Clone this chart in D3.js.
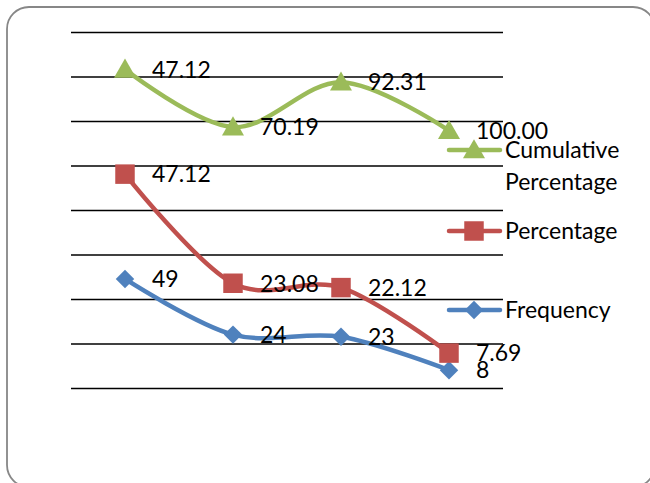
<!DOCTYPE html>
<html>
<head>
<meta charset="utf-8">
<script src="https://cdn.jsdelivr.net/npm/d3@7"></script>
<style>
  html, body { margin: 0; padding: 0; background: #fff; }
  svg { display: block; }
</style>
</head>
<body>
<div id="chart"></div>
<script>
// Stacked line chart (Excel style): each series stacks on the one below
var categories = ["1", "2", "3", "4"];
var frequency = [49, 24, 23, 8];
var percentage = [47.12, 23.08, 22.12, 7.69];
var cumulative = [47.12, 70.19, 92.31, 100.00];
var labelText = {
  frequency: ["49", "24", "23", "8"],
  percentage: ["47.12", "23.08", "22.12", "7.69"],
  cumulative: ["47.12", "70.19", "92.31", "100.00"]
};
var yTicks = [0, 20, 40, 60, 80, 100, 120, 140, 160];

var W = 650, H = 483;
var FONT = "Lato, 'Open Sans', sans-serif";
var FONT_SIZE = 23;

var svg = d3.select("#chart").append("svg")
  .attr("width", W)
  .attr("height", H);

// outer rounded frame (runs off the right / bottom edge)
svg.append("rect")
  .attr("x", 7).attr("y", 7)
  .attr("width", 648).attr("height", 480)
  .attr("rx", 22).attr("ry", 22)
  .attr("fill", "#fff")
  .attr("stroke", "#878787")
  .attr("stroke-width", 1.8);

var x = d3.scalePoint().domain(categories).range([71, 503]).padding(0.5);
var y = d3.scaleLinear().domain([0, 160]).range([388, 32]);

// gridlines
var grid = svg.append("g")
  .attr("transform", "translate(71,0)")
  .call(d3.axisLeft(y).tickValues(yTicks).tickSize(-432).tickFormat(""));
grid.select(".domain").remove();
grid.selectAll(".tick line").attr("stroke", "#000").attr("stroke-width", 1.6);

// stack the series
var series = [
  { key: "frequency", name: "Frequency", values: frequency, color: "#4F81BD", marker: "diamond" },
  { key: "percentage", name: "Percentage", values: percentage, color: "#C0504D", marker: "square" },
  { key: "cumulative", name: "Cumulative Percentage", values: cumulative, color: "#9BBB59", marker: "triangle" }
];
var running = categories.map(function () { return 0; });
series.forEach(function (s) {
  s.points = s.values.map(function (v, i) {
    running[i] += v;
    return { cat: categories[i], top: running[i], label: labelText[s.key][i] };
  });
});

var symbolMap = {
  diamond: d3.symbol().type(d3.symbolSquare).size(170),
  square: d3.symbol().type(d3.symbolSquare).size(380),
  triangle: d3.symbol().type(d3.symbolTriangle).size(210)
};
function markTransform(marker, px, py) {
  if (marker === "diamond") return "translate(" + px + "," + py + ") rotate(45)";
  if (marker === "triangle") return "translate(" + px + "," + (py + 2) + ")";
  return "translate(" + px + "," + py + ")";
}

var lineGen = d3.line()
  .x(function (d) { return x(d.cat); })
  .y(function (d) { return y(d.top); })
  .curve(d3.curveCardinal.tension(0));

series.forEach(function (s) {
  var g = svg.append("g");
  g.append("path")
    .datum(s.points)
    .attr("fill", "none")
    .attr("stroke", s.color)
    .attr("stroke-width", 4.5)
    .attr("stroke-linejoin", "round")
    .attr("stroke-linecap", "round")
    .attr("d", lineGen);

  g.selectAll("path.mark")
    .data(s.points)
    .join("path")
    .attr("class", "mark")
    .attr("transform", function (d) { return markTransform(s.marker, x(d.cat), y(d.top)); })
    .attr("d", symbolMap[s.marker])
    .attr("fill", s.color);
});

// data labels
series.forEach(function (s) {
  svg.append("g").selectAll("text")
    .data(s.points)
    .join("text")
    .attr("x", function (d) { return x(d.cat) + 27; })
    .attr("y", function (d) { return y(d.top); })
    .attr("dy", "0.36em")
    .attr("font-family", FONT)
    .attr("font-size", FONT_SIZE)
    .attr("fill", "#000")
    .text(function (d) { return d.label; });
});

// legend
var legendItems = [
  { s: series[2], y: 150, lines: ["Cumulative", "Percentage"] },
  { s: series[1], y: 231, lines: ["Percentage"] },
  { s: series[0], y: 310, lines: ["Frequency"] }
];
var legend = svg.append("g");
legendItems.forEach(function (item) {
  var lg = legend.append("g");
  lg.append("line")
    .attr("x1", 449).attr("x2", 500)
    .attr("y1", item.y).attr("y2", item.y)
    .attr("stroke", item.s.color)
    .attr("stroke-width", 4.5)
    .attr("stroke-linecap", "round");
  lg.append("path")
    .attr("transform", markTransform(item.s.marker, 474, item.y))
    .attr("d", symbolMap[item.s.marker])
    .attr("fill", item.s.color);
  lg.selectAll("text")
    .data(item.lines)
    .join("text")
    .attr("x", 505)
    .attr("y", function (d, i) { return item.y + i * 32; })
    .attr("dy", "0.36em")
    .attr("font-family", FONT)
    .attr("font-size", FONT_SIZE)
    .attr("fill", "#000")
    .text(function (d) { return d; });
});
</script>
</body>
</html>
